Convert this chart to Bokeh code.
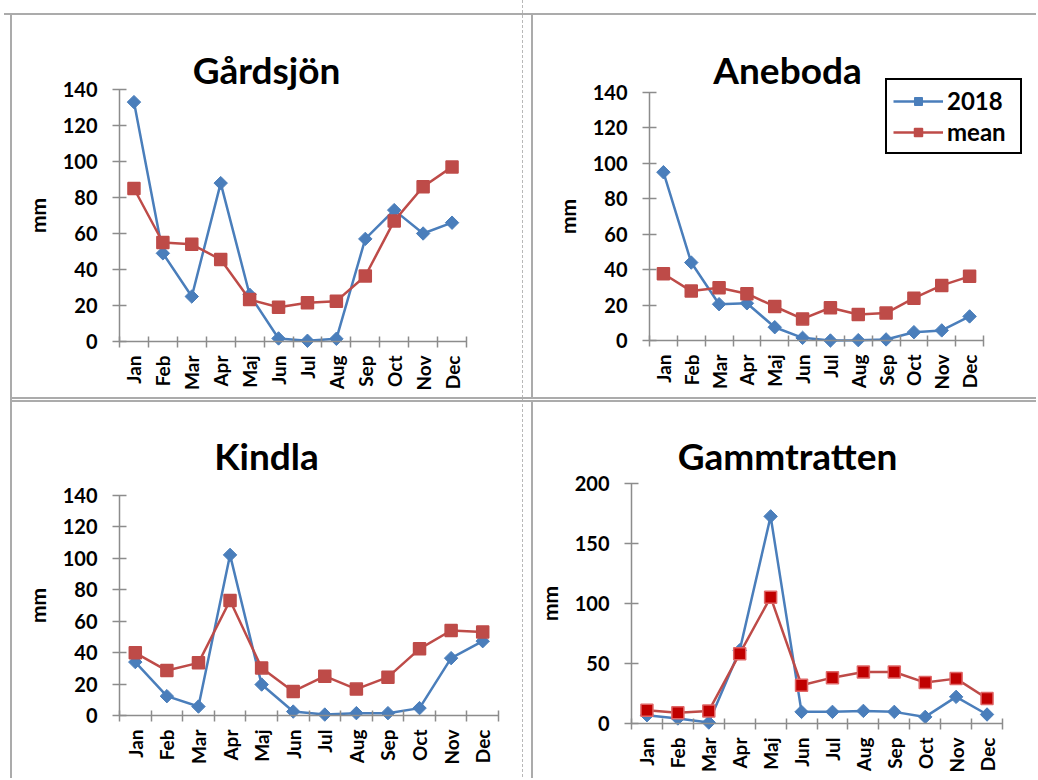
import numpy as np
from bokeh.plotting import figure
from bokeh.layouts import column, row
from bokeh.models import Range1d, FixedTicker, Label, Legend, LegendItem
from bokeh.embed import file_html
from bokeh.resources import INLINE

months = ["Jan", "Feb", "Mar", "Apr", "Maj", "Jun", "Jul", "Aug", "Sep", "Oct", "Nov", "Dec"]

gardsjon_2018 = [133, 49, 25, 88, 26, 1.7, 0.4, 1.5, 57, 73, 60, 66]
gardsjon_mean = [85, 55, 54, 45.5, 23.3, 19, 21.5, 22.4, 36.4, 67, 86, 97]

aneboda_2018 = [95, 44, 20.5, 21, 7.5, 1.5, 0, 0.2, 0.6, 4.7, 5.7, 13.6]
aneboda_mean = [37.7, 27.9, 29.8, 26.4, 19.2, 12.2, 18.5, 14.7, 15.5, 23.9, 31.1, 36.2]

kindla_2018 = [34, 12.3, 5.7, 102.2, 19.7, 2.5, 0.6, 1.5, 1.5, 4.7, 36.5, 47.3]
kindla_mean = [39.9, 28.6, 33.5, 73.2, 30.3, 15.3, 25, 16.8, 24.4, 42.4, 54.1, 53.2]

gamm_2018 = [6.9, 4.2, 0.8, 61, 172.6, 9.7, 9.7, 10.5, 9.7, 5.5, 22.2, 7.5]
gamm_mean = [11.1, 8.9, 10.5, 58.2, 105.3, 31.9, 38.2, 42.9, 42.9, 34.1, 37.4, 20.8]

series_names = ["2018", "mean"]

BLUE = "#4A7EBB"
RED = "#BE4B48"
AXIS = "#8c8c8c"
BOX = "#ababab"
FONT = "Lato"


def box_styles(lines, dashed_x=None):
    imgs, sizes, poss = [], [], []
    for (x, y, w, h) in lines:
        imgs.append(f"linear-gradient({BOX},{BOX})")
        sizes.append(f"{w} {h}")
        poss.append(f"{x}px {y}px")
    if dashed_x is not None:
        imgs.append("repeating-linear-gradient(to bottom, #b8b8b8 0px, #b8b8b8 3px, transparent 3px, transparent 5px)")
        sizes.append("1px 100%")
        poss.append(f"{dashed_x}px 0px")
    return {
        "background-image": ", ".join(imgs),
        "background-size": ", ".join(sizes),
        "background-position": ", ".join(poss),
        "background-repeat": "no-repeat",
    }


def make_panel(title, s2018, smean, fx, fy, fw, fh, ax, xe, y0, ytop, ymax, ystep,
               title_cx, title_base, styles, legend=None, mean_fill=RED, mean_line=RED):
    # the frame fills the whole figure; axes sit at fixed data locations
    upx = 12.0 / (xe - ax)
    upp = ymax / (y0 - ytop)
    x_start = 0.5 - (ax - fx) * upx
    x_end = 12.5 + (fx + fw - xe) * upx
    y_start = -(fy + fh - y0) * upp
    y_end = ymax + (ytop - fy) * upp
    p = figure(width=fw, height=fh, output_backend="svg", toolbar_location=None,
               x_range=Range1d(x_start, x_end), y_range=Range1d(y_start, y_end),
               min_border_left=0, min_border_right=0,
               min_border_top=0, min_border_bottom=0)
    p.title.visible = False
    p.border_fill_color = None
    p.background_fill_color = None
    p.outline_line_color = None
    p.grid.visible = False
    p.styles = styles

    x = list(range(1, 13))
    l1 = p.line(x, s2018, line_color=BLUE, line_width=2.5)
    m1 = p.scatter(x, s2018, marker="square", angle=np.pi / 4, size=9.5,
                   fill_color=BLUE, line_color=BLUE)
    l2 = p.line(x, smean, line_color=RED, line_width=2.5)
    m2 = p.scatter(x, smean, marker="square", size=12,
                   fill_color=mean_fill, line_color=mean_line, line_width=1.5)

    xa = p.xaxis[0]
    xa.fixed_location = 0
    xa.bounds = (0.5, 12.5)
    xa.ticker = FixedTicker(ticks=x, minor_ticks=[i + 0.5 for i in range(0, 13)])
    xa.major_label_overrides = {i + 1: m for i, m in enumerate(months)}
    xa.major_label_orientation = np.pi / 2
    xa.major_tick_in = 0
    xa.major_tick_out = 0
    xa.minor_tick_in = 5
    xa.minor_tick_out = 6
    xa.major_label_standoff = 8
    xa.axis_line_color = AXIS
    xa.minor_tick_line_color = AXIS
    xa.axis_line_width = 1.5
    xa.minor_tick_line_width = 1.5
    xa.major_label_text_font = FONT
    xa.major_label_text_font_style = "bold"
    xa.major_label_text_font_size = "19px"
    xa.major_label_text_color = "black"

    ya = p.yaxis[0]
    ya.fixed_location = 0.5
    ya.bounds = (0, ymax)
    ya.ticker = FixedTicker(ticks=list(range(0, ymax + 1, ystep)), minor_ticks=[])
    ya.major_tick_in = 7
    ya.major_tick_out = 7
    ya.minor_tick_in = 0
    ya.minor_tick_out = 0
    ya.major_label_standoff = 15
    ya.axis_line_color = AXIS
    ya.major_tick_line_color = AXIS
    ya.axis_line_width = 1.5
    ya.major_tick_line_width = 1.5
    ya.major_label_text_font = FONT
    ya.major_label_text_font_style = "bold"
    ya.major_label_text_font_size = "20px"
    ya.major_label_text_color = "black"
    ya.axis_label = "mm"
    ya.axis_label_text_font = FONT
    ya.axis_label_text_font_style = "bold"
    ya.axis_label_text_font_size = "21px"
    ya.axis_label_text_color = "black"
    ya.axis_label_standoff = 10

    p.add_layout(Label(x=title_cx - fx, y=fy + fh - title_base, x_units="screen", y_units="screen",
                       text=title, text_align="center", text_baseline="alphabetic",
                       text_font=FONT, text_font_style="bold", text_font_size="37px",
                       text_color="black"))

    if legend is not None:
        lx, lbot = legend
        leg = Legend(items=[LegendItem(label=series_names[0], renderers=[l1, m1]),
                            LegendItem(label=series_names[1], renderers=[l2, m2])],
                     location=(lx - fx, fy + fh - lbot))
        leg.border_line_color = "black"
        leg.border_line_alpha = 1.0
        leg.border_line_width = 2
        leg.padding = 6
        leg.spacing = 2
        leg.margin = 0
        leg.glyph_width = 50
        leg.glyph_height = 20
        leg.label_standoff = 4
        leg.label_width = 67
        leg.label_text_font = FONT
        leg.label_text_font_style = "bold"
        leg.label_text_font_size = "24px"
        leg.label_text_color = "black"
        leg.background_fill_color = "white"
        leg.background_fill_alpha = 1.0
        p.add_layout(leg, "center")
    return p


pA = make_panel("Gårdsjön", gardsjon_2018, gardsjon_mean, 0, 0, 524, 399,
                119, 466, 341, 89, 140, 20, 266, 69,
                box_styles([(10, 13, "2px", "100%"), (4, 13, "100%", "2px"), (10, 397, "100%", "2px")],
                           dashed_x=522))
pB = make_panel("Aneboda", aneboda_2018, aneboda_mean, 524, 0, 512, 399,
                649, 983, 340, 92, 140, 20, 787, 69,
                box_styles([(7, 13, "2px", "100%"), (0, 13, "100%", "2px"), (0, 397, "100%", "2px")]),
                legend=(885, 154))
pC = make_panel("Kindla", kindla_2018, kindla_mean, 0, 399, 524, 379,
                119, 498, 715, 495, 140, 20, 266, 455,
                box_styles([(10, 0, "2px", "100%"), (10, 1, "100%", "2px")], dashed_x=522))
pD = make_panel("Gammtratten", gamm_2018, gamm_mean, 524, 399, 512, 379,
                631, 1002, 723, 483, 200, 50, 787, 455,
                box_styles([(7, 1, "2px", "100%"), (0, 1, "100%", "2px")]),
                mean_fill="#C00000", mean_line="#E06666")

layout = column(row(pA, pB, spacing=0), row(pC, pD, spacing=0), spacing=0)
open("out.html", "w").write(file_html(layout, INLINE))
